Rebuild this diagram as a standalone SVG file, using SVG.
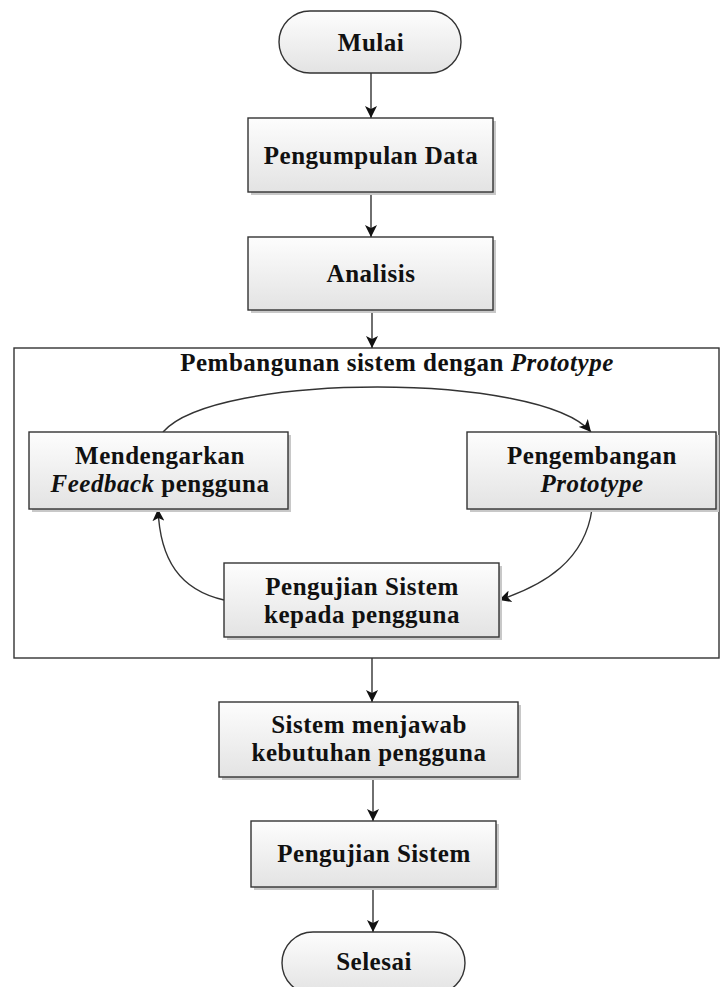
<svg xmlns="http://www.w3.org/2000/svg" width="721" height="987" viewBox="0 0 721 987">
<defs>
<linearGradient id="g" x1="0" y1="0" x2="0" y2="1">
<stop offset="0" stop-color="#fdfdfd"/>
<stop offset="1" stop-color="#e3e3e3"/>
</linearGradient>
<marker id="ah" markerUnits="userSpaceOnUse" markerWidth="13" markerHeight="12" refX="12" refY="6" orient="auto">
<path d="M0,0 L12,6 L0,12 L3,6 z" fill="#111"/>
</marker>
<style>
.box{fill:url(#g);stroke:#333;stroke-width:1.4}
.sh{fill:#c8c8c8}
.t{font-family:"Liberation Serif","Times New Roman",serif;font-weight:bold;font-size:25px;letter-spacing:0.5px;fill:#111;text-anchor:middle}
.it{font-style:italic}
.c{fill:none;stroke:#333;stroke-width:1.4;marker-end:url(#ah)}
.frame{fill:none;stroke:#333;stroke-width:1.4}
</style>
</defs>
<rect width="721" height="987" fill="#fff"/>

<g id="frame">
<rect class="frame" x="14" y="348" width="705" height="310"/>
<text class="t" x="397" y="371">Pembangunan sistem dengan <tspan class="it">Prototype</tspan></text>
</g>

<g id="connectors">
<line class="c" x1="371" y1="73" x2="371" y2="118"/>
<line class="c" x1="371" y1="192" x2="371" y2="237"/>
<line class="c" x1="372" y1="310" x2="372" y2="348"/>
<path class="c" d="M163,432 C215,372 540,372 591,432"/>
<path class="c" d="M592,509 C585,560 545,585 499,600"/>
<path class="c" d="M224,600 C180,590 160,560 158,509"/>
<line class="c" x1="372" y1="658" x2="372" y2="702"/>
<line class="c" x1="373" y1="777" x2="373" y2="821"/>
<line class="c" x1="373" y1="887" x2="373" y2="932"/>
</g>

<g id="mulai">
<rect class="box" x="279" y="11" width="182" height="62" rx="31" ry="31"/>
<text class="t" x="371" y="51">Mulai</text>
</g>

<g id="pengumpulan">
<rect class="sh" x="251" y="121" width="245" height="74"/>
<rect class="box" x="248" y="118" width="245" height="74"/>
<text class="t" x="371" y="164">Pengumpulan Data</text>
</g>

<g id="analisis">
<rect class="sh" x="251" y="240" width="245" height="73"/>
<rect class="box" x="248" y="237" width="245" height="73"/>
<text class="t" x="371" y="282">Analisis</text>
</g>

<g id="mendengarkan">
<rect class="sh" x="32" y="435" width="259" height="77"/>
<rect class="box" x="29" y="432" width="259" height="77"/>
<text class="t" x="160" y="464">Mendengarkan</text>
<text class="t" x="160" y="492"><tspan class="it">Feedback</tspan> pengguna</text>
</g>

<g id="pengembangan">
<rect class="sh" x="470" y="435" width="249" height="77"/>
<rect class="box" x="467" y="432" width="249" height="77"/>
<text class="t" x="592" y="464">Pengembangan</text>
<text class="t it" x="592" y="492">Prototype</text>
</g>

<g id="pengujian-pengguna">
<rect class="sh" x="227" y="566" width="275" height="74"/>
<rect class="box" x="224" y="563" width="275" height="74"/>
<text class="t" x="362" y="595">Pengujian Sistem</text>
<text class="t" x="362" y="623">kepada pengguna</text>
</g>

<g id="sistem-menjawab">
<rect class="sh" x="222" y="705" width="299" height="75"/>
<rect class="box" x="219" y="702" width="299" height="75"/>
<text class="t" x="369" y="733">Sistem menjawab</text>
<text class="t" x="369" y="761">kebutuhan pengguna</text>
</g>

<g id="pengujian">
<rect class="sh" x="254" y="824" width="245" height="66"/>
<rect class="box" x="251" y="821" width="245" height="66"/>
<text class="t" x="374" y="862">Pengujian Sistem</text>
</g>

<g id="selesai">
<rect class="box" x="282" y="932" width="183" height="62" rx="31" ry="31"/>
<text class="t" x="374" y="970">Selesai</text>
</g>
</svg>
